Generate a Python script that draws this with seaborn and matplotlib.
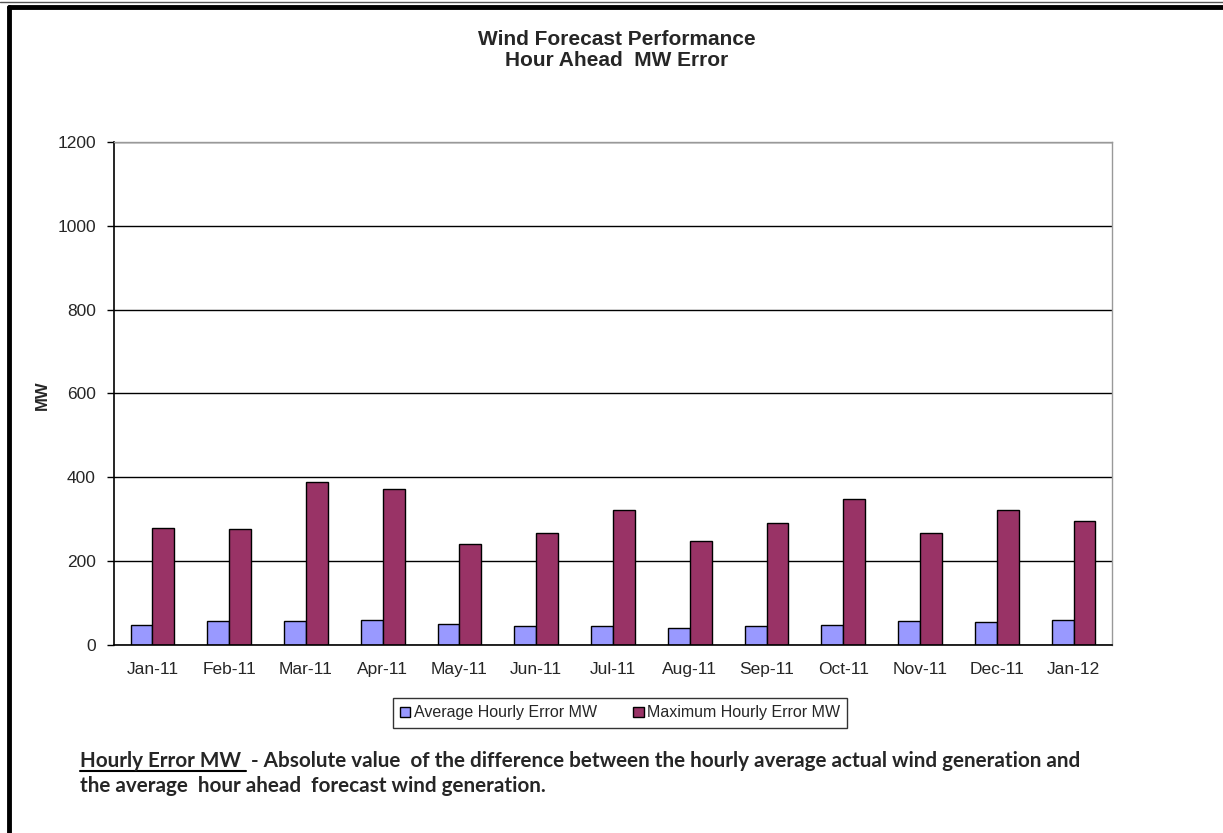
import matplotlib
matplotlib.use('Agg')
import matplotlib.pyplot as plt
import matplotlib.lines as mlines
import pandas as pd
import seaborn as sns

months = ['Jan-11', 'Feb-11', 'Mar-11', 'Apr-11', 'May-11', 'Jun-11', 'Jul-11',
          'Aug-11', 'Sep-11', 'Oct-11', 'Nov-11', 'Dec-11', 'Jan-12']
avg_error = [48, 57, 57, 60, 51, 45, 45, 41, 45, 48, 57, 54, 60]
max_error = [280, 277, 390, 371, 241, 267, 322, 248, 290, 348, 268, 322, 296]
series_names = ['Average Hourly Error MW', 'Maximum Hourly Error MW']
colors = ['#9999FF', '#993366']

df = pd.DataFrame({
    'Month': months * 2,
    'MW': avg_error + max_error,
    'Series': [series_names[0]] * len(months) + [series_names[1]] * len(months),
})

sns.set_style('white')
plt.rcParams['font.family'] = ['Liberation Sans', 'DejaVu Sans']

fig = plt.figure(figsize=(12.23, 8.33), dpi=100)
ax = fig.add_axes([114 / 1223, 1 - 645 / 833, 998 / 1223, 503 / 833])

sns.barplot(data=df, x='Month', y='MW', hue='Series', palette=colors,
            width=0.57, edgecolor='black', linewidth=1.0, saturation=1, ax=ax)

ax.set_ylim(0, 1200)
ax.set_xlim(-0.5, len(months) - 0.5)
ax.set_yticks(range(0, 1201, 200))
ax.yaxis.grid(True, color='black', linewidth=1.0)
ax.set_axisbelow(True)
ax.set_xlabel('')
ax.set_ylabel('MW', fontsize=12, fontweight='bold')
ax.yaxis.set_label_coords((50 - 114) / 998, (645 - 395) / 503)

# ticks between categories, labels centered
ax.set_xticks(range(len(months)))
ax.set_xticklabels(months, fontsize=12.5)
ax.tick_params(axis='x', length=0, pad=12)
ax.set_xticks([i - 0.5 for i in range(len(months) + 1)], minor=True)
ax.tick_params(axis='x', which='minor', length=6, width=1, color='black', direction='out')
ax.tick_params(axis='y', labelsize=12.5, length=5, width=1, color='black', direction='out',
               left=True, pad=8)

for side in ['left', 'bottom']:
    ax.spines[side].set_color('black')
    ax.spines[side].set_linewidth(1.2)
for side in ['right', 'top']:
    ax.spines[side].set_color('#999999')
    ax.spines[side].set_linewidth(1.0)

handles, labels = ax.get_legend_handles_labels()
ax.legend_.remove()
fig.legend(handles, labels, loc='center', bbox_to_anchor=(620 / 1223, 1 - 713 / 833),
           ncol=2, frameon=True, fancybox=False, edgecolor='black', fontsize=11.5,
           handlelength=0.65, handleheight=0.65, handletextpad=0.2, columnspacing=2.3,
           borderpad=0.45, borderaxespad=0)
fig.legends[0].get_frame().set_linewidth(1.0)

fig.text(617 / 1223, 1 - 50 / 833, 'Wind Forecast Performance\nHour Ahead  MW Error',
         ha='center', va='center', fontsize=15, fontweight='bold', linespacing=1.1)

# footnote
foot_font = ['Lato', 'DejaVu Sans']
fsize = 14.9
t1 = fig.text(80 / 1223, 1 - 761 / 833, 'Hourly Error MW ', fontsize=fsize,
              fontweight='bold', family=foot_font, va='center')
fig.canvas.draw()
bb = t1.get_window_extent().transformed(fig.transFigure.inverted())
fig.text(bb.x1, 1 - 761 / 833,
         ' - Absolute value  of the difference between the hourly average actual wind generation and',
         fontsize=fsize, fontweight='bold', family=foot_font, va='center')
fig.lines.append(mlines.Line2D([bb.x0, bb.x1], [1 - 771 / 833, 1 - 771 / 833],
                               transform=fig.transFigure, color='black', linewidth=1.5))
fig.text(80 / 1223, 1 - 786 / 833, 'the average  hour ahead  forecast wind generation.',
         fontsize=fsize, fontweight='bold', family=foot_font, va='center')

# outer frame (top and left edges visible)
fig.lines.append(mlines.Line2D([0, 1], [1 - 2 / 833, 1 - 2 / 833],
                               transform=fig.transFigure, color='#555555', linewidth=1.0))
fig.lines.append(mlines.Line2D([9 / 1223, 1], [1 - 7 / 833, 1 - 7 / 833],
                               transform=fig.transFigure, color='black', linewidth=3.5))
fig.lines.append(mlines.Line2D([9 / 1223, 9 / 1223], [0, 1 - 7 / 833],
                               transform=fig.transFigure, color='black', linewidth=3.5))

fig.savefig('out.png', dpi=100)
